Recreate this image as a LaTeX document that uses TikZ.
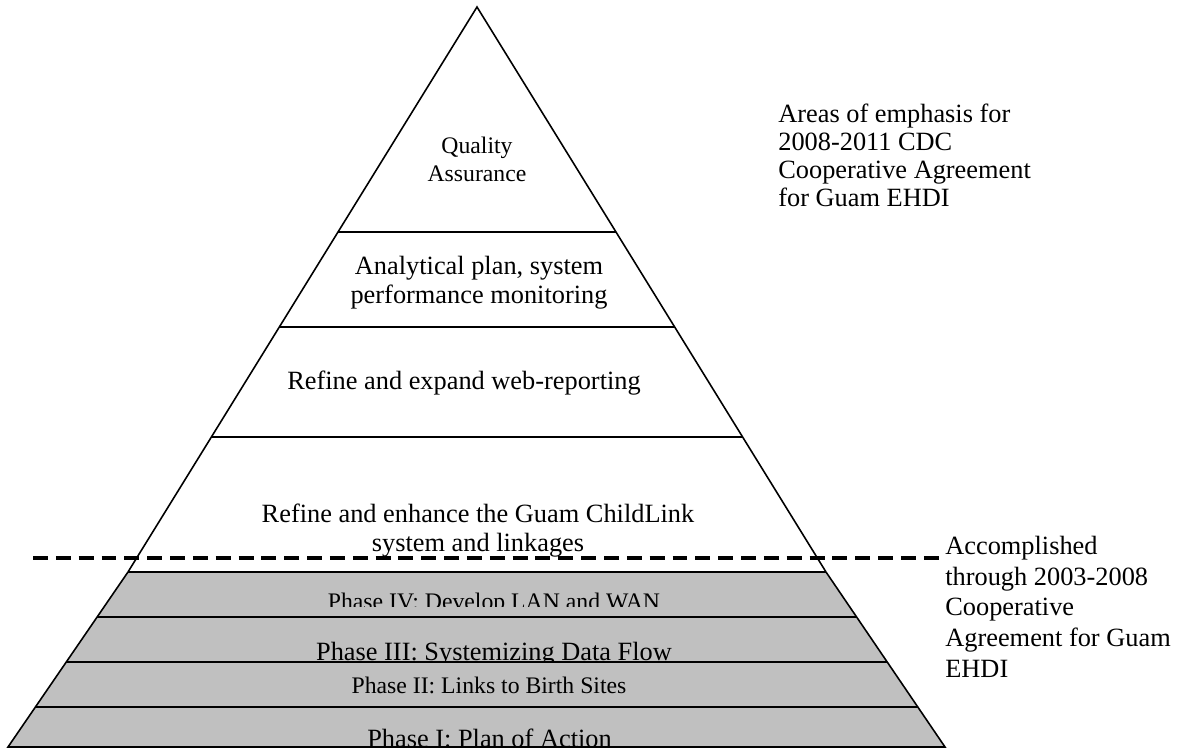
\documentclass[tikz,border=0pt]{standalone}
\usepackage{fontspec}
\setmainfont{Liberation Serif}
\usetikzlibrary{calc}
\definecolor{bandgray}{RGB}{192,192,192}
\tikzset{
  big label/.style={font=\fontsize{15}{17}\selectfont, align=center, inner sep=0pt, anchor=base},
  small label/.style={font=\fontsize{13.5}{16.4}\selectfont, align=center, inner sep=0pt, anchor=base},
  side note/.style={font=\fontsize{15}{16}\selectfont, align=left, inner sep=0pt, anchor=base west},
  side line/.style={line width=0.9pt},
  layer line/.style={line width=1.2pt},
  split line/.style={line width=2pt, dash pattern=on 8.5pt off 4.5pt},
}

\begin{document}
\begin{tikzpicture}[x=0.02cm,y=-0.02cm]
\useasboundingbox (0,0) rectangle (1180,749);

%%% Upper part of pyramid (2008-2011)

\draw[side line] (128,572) -- (477,7) -- (826,572); % triangle sides
\draw[layer line] (338,232) -- (616,232); % under Quality Assurance
\draw[layer line] (279,327) -- (675,327); % under Analytical plan
\draw[layer line] (211,437) -- (743,437); % under web-reporting
\node[small label] (quality) at (477,182) {Quality\\Assurance}; % top layer
\node[big label] (analytic) at (479,304) {Analytical plan, system\\performance monitoring};
\node[big label] (webrep) at (464,390) {Refine and expand web-reporting};
\node[big label] (childlink) at (478,552) {Refine and enhance the Guam ChildLink\\system and linkages};

%%% Lower part of pyramid (2003-2008), grey bands

\fill[bandgray] (128,572) -- (826,572) -- (945,747) -- (8,747) -- cycle; % grey trapezoid
\begin{scope}
  \clip (0,572) rectangle (1180,606);
  \node[small label] (phase4) at (494,609) {Phase IV: Develop LAN and WAN};
\end{scope}
\begin{scope}
  \clip (0,617) rectangle (1180,661);
  \node[big label] (phase3) at (494,660.5) {Phase III: Systemizing Data Flow};
\end{scope}
\node[small label] (phase2) at (489,693) {Phase II: Links to Birth Sites};
\begin{scope}
  \clip (0,707) rectangle (1180,747);
  \node[big label] (phase1) at (489.5,747) {Phase I: Plan of Action};
\end{scope}
\draw[side line] (128,572) -- (8,747) -- (945,747) -- (826,572); % trapezoid sides and base
\draw[layer line] (128,572) -- (826,572); % top of grey part
\draw[layer line] (97,617) -- (857,617);
\draw[layer line] (66,662) -- (887,662);
\draw[layer line] (36,707) -- (918,707);

%%% Notes on the right

\node[side note] (emphasis) at (778,207) {Areas of emphasis for\\2008-2011 CDC\\Cooperative Agreement\\for Guam EHDI};
\node[side note, font=\fontsize{15}{17.4}\selectfont] (accomplished) at (945,677) {Accomplished\\through 2003-2008\\Cooperative\\Agreement for Guam\\EHDI};
\coordinate (dash start) at (33,558);
\draw[split line] (dash start) -- (dash start -| accomplished.west); % dividing line
\end{tikzpicture}
\end{document}
